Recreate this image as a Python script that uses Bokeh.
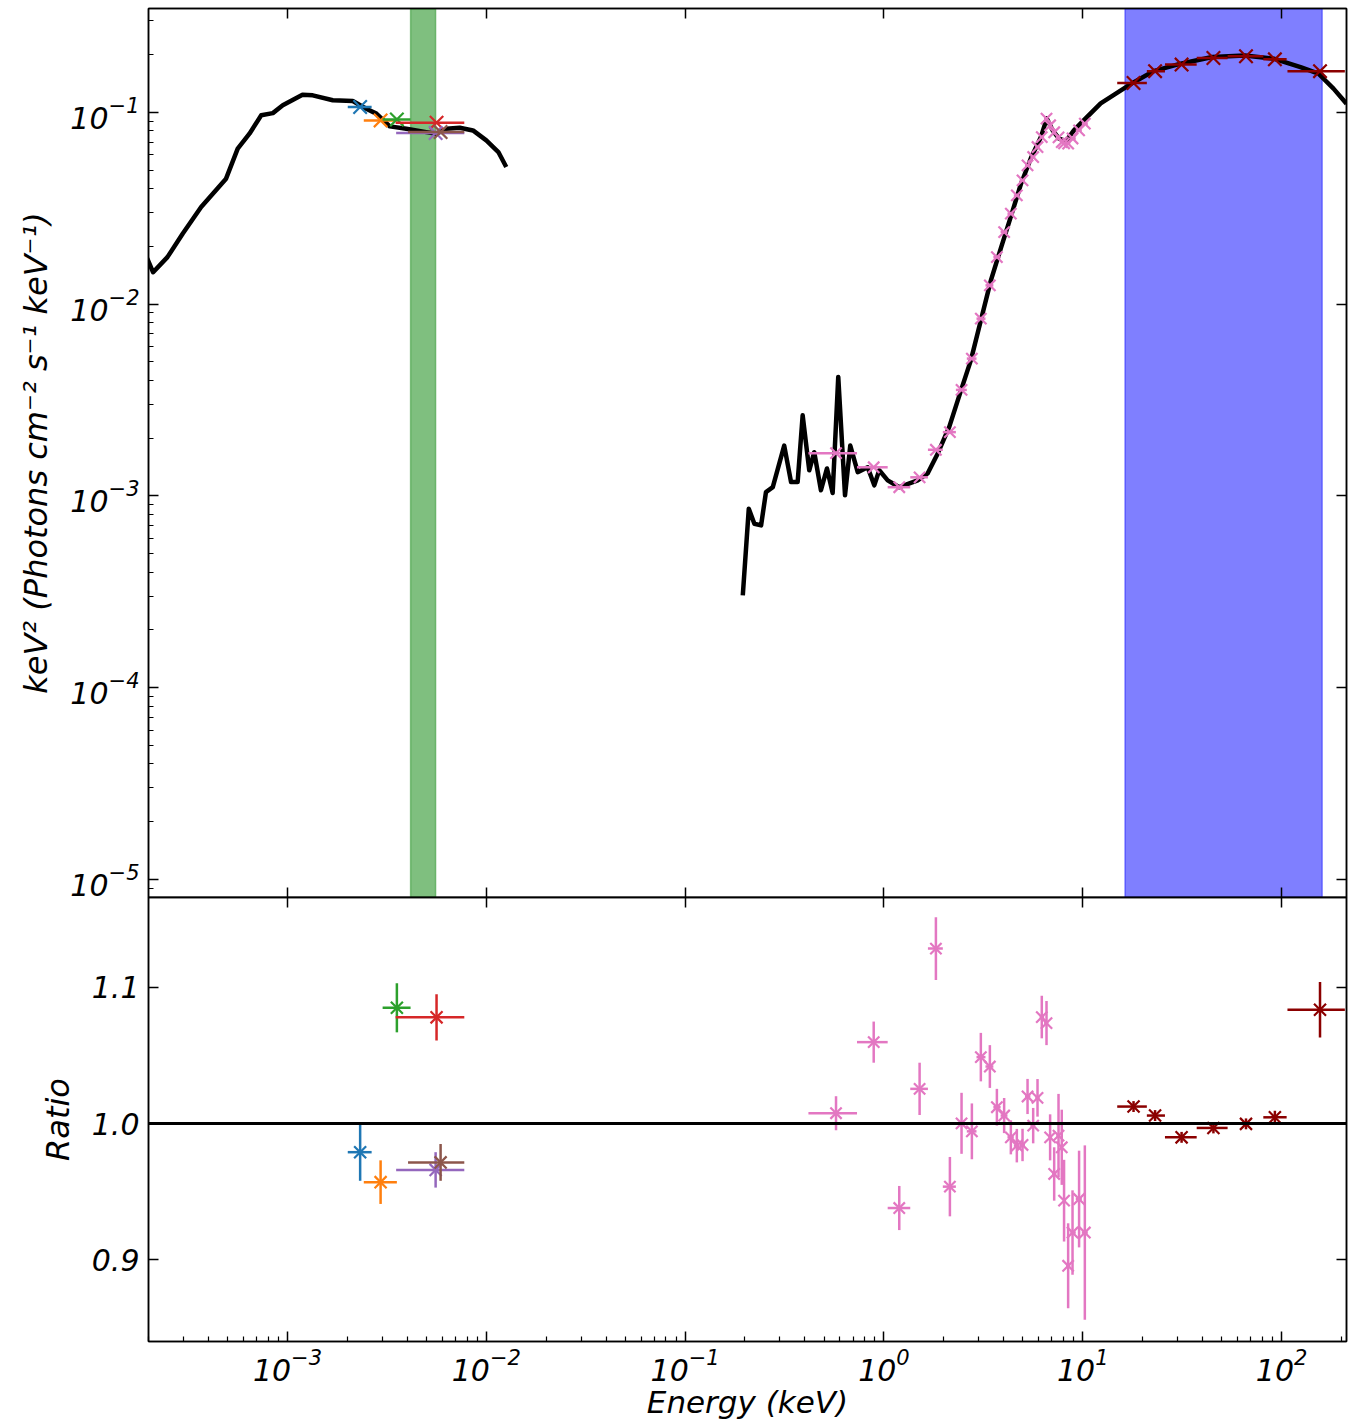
from bokeh.plotting import figure
from bokeh.models import (Range1d, LogAxis, LinearAxis, FixedTicker, BoxAnnotation,
                          Span, CustomJSTickFormatter, PrintfTickFormatter)
from bokeh.layouts import column
from bokeh.embed import file_html
from bokeh.resources import INLINE

# ---------------- data ----------------
# model curve, UV/optical part (keV, keV^2 photons cm^-2 s^-1 keV^-1)
opt_model_E = [1.97e-4, 2.11e-4, 2.49e-4, 2.97e-4, 3.68e-4, 4.91e-4, 5.62e-4, 6.44e-4,
               7.38e-4, 8.44e-4, 9.47e-4, 1.19e-3, 1.34e-3, 1.69e-3, 2.13e-3, 2.49e-3,
               2.80e-3, 3.27e-3, 3.96e-3, 4.99e-3, 5.61e-3, 6.30e-3, 7.35e-3, 8.57e-3,
               1.00e-2, 1.15e-2, 1.26e-2]
opt_model_F = [0.0173, 0.01466, 0.01758, 0.0233, 0.0321, 0.0451, 0.0647, 0.0774,
               0.0965, 0.0991, 0.1088, 0.1236, 0.1227, 0.1156, 0.1146, 0.1045,
               0.0985, 0.0845, 0.0822, 0.0789, 0.0774, 0.0822, 0.0832, 0.0805,
               0.0714, 0.0621, 0.0519]

# model curve, X-ray part
xr_model_E = [0.195, 0.209, 0.223, 0.241, 0.255, 0.276, 0.315, 0.341, 0.368, 0.390,
              0.421, 0.446, 0.482, 0.517, 0.552, 0.589, 0.637, 0.677, 0.738, 0.828,
              0.894, 0.947, 1.044, 1.194, 1.477, 1.658, 1.862, 2.13, 2.44, 2.735,
              3.07, 3.45, 3.87, 4.35, 4.88, 5.48, 6.15, 6.59, 7.06, 7.57, 8.22,
              9.02, 10.1, 12.3, 17.8, 22.7, 31.1, 44.8, 65.2, 91.2, 124.5, 153.4,
              182.4, 212.0]
xr_model_F = [3.03e-4, 8.57e-4, 7.16e-4, 7.02e-4, 1.047e-3, 1.11e-3, 1.83e-3, 1.18e-3,
              1.18e-3, 2.63e-3, 1.36e-3, 1.69e-3, 1.07e-3, 1.39e-3, 1.035e-3, 4.17e-3,
              1.007e-3, 1.83e-3, 1.33e-3, 1.41e-3, 1.135e-3, 1.36e-3, 1.205e-3, 1.11e-3,
              1.205e-3, 1.31e-3, 1.66e-3, 2.29e-3, 3.55e-3, 5.09e-3, 8.22e-3, 0.0133,
              0.01954, 0.0287, 0.0422, 0.0576, 0.0741, 0.093, 0.0805, 0.0731, 0.0706,
              0.0805, 0.0908, 0.1114, 0.1423, 0.164, 0.1794, 0.1943, 0.198, 0.1905,
              0.172, 0.159, 0.133, 0.111]

# UVOT filters (six colours)
uv_colors = ["#1f77b4", "#ff7f0e", "#2ca02c", "#d62728", "#9467bd", "#8c564b"]
uv_E = [2.32e-3, 2.94e-3, 3.55e-3, 5.62e-3, 5.56e-3, 5.89e-3]
uv_Elo = [2.01e-3, 2.42e-3, 3.01e-3, 3.50e-3, 3.52e-3, 4.04e-3]
uv_Ehi = [2.65e-3, 3.55e-3, 4.16e-3, 7.75e-3, 7.75e-3, 7.75e-3]
uv_F = [0.1066, 0.0908, 0.0919, 0.0884, 0.0780, 0.0789]
uv_R = [0.979, 0.957, 1.085, 1.078, 0.966, 0.9715]
uv_Rerr = [0.021, 0.016, 0.018, 0.017, 0.013, 0.0135]

# XRT (pink)
xrt_E = [0.574, 0.888, 1.194, 1.511, 1.825, 2.146, 2.456, 2.768, 3.071, 3.409,
         3.698, 4.022, 4.347, 4.659, 4.977, 5.274, 5.63, 5.92, 6.22, 6.57,
         6.85, 7.18, 7.55, 7.84, 8.05, 8.44, 8.88, 9.58, 10.24]
xrt_edges = [0.417, 0.732, 1.044, 1.356, 1.664, 1.977, 2.30, 2.61, 2.92, 3.24,
             3.55, 3.86, 4.18, 4.50, 4.81, 5.12, 5.45, 5.77, 6.07, 6.39,
             6.71, 7.01, 7.36, 7.69, 7.95, 8.24, 8.65, 9.22, 9.89, 10.6]
xrt_F = [1.67e-3, 1.41e-3, 1.11e-3, 1.25e-3, 1.74e-3, 2.15e-3, 3.57e-3, 5.20e-3,
         8.40e-3, 0.01253, 0.01759, 0.02375, 0.02963, 0.03690, 0.04418, 0.05291,
         0.05848, 0.06594, 0.07432, 0.0927, 0.0856, 0.0787, 0.0741, 0.0700,
         0.0689, 0.0687, 0.0731, 0.0805, 0.0873]
xrt_R = [1.0076, 1.0598, 0.938, 1.0255, 1.1285, 0.9537, 1.0002, 0.9943, 1.0488,
         1.0419, 1.012, 1.0059, 0.9899, 0.9838, 0.9843, 1.0199, 0.9985, 1.0189,
         1.0782, 1.0738, 0.9899, 0.963, 0.9912, 0.9826, 0.9434, 0.8956, 0.920,
         0.9446, 0.920]
xrt_Rerr = [0.0125, 0.0151, 0.0162, 0.0192, 0.023, 0.0218, 0.0224, 0.0205, 0.0178,
            0.0157, 0.0135, 0.0129, 0.0125, 0.0123, 0.0119, 0.0129, 0.013, 0.0138,
            0.0156, 0.0162, 0.0169, 0.0196, 0.0306, 0.0276, 0.030, 0.0312, 0.031,
            0.0355, 0.064]

# BAT (dark red)
bat_E = [18.0, 23.1, 31.4, 45.4, 66.2, 92.5, 156.0]
bat_Elo = [14.9, 21.0, 25.9, 37.4, 53.5, 80.9, 107.0]
bat_Ehi = [21.0, 25.9, 37.4, 53.5, 80.9, 106.0, 208.0]
bat_F = [0.1423, 0.164, 0.1774, 0.192, 0.196, 0.189, 0.164]
bat_R = [1.0125, 1.0059, 0.9899, 0.9968, 0.9998, 1.0046, 1.0836]
bat_Rerr = [0.004, 0.004, 0.004, 0.004, 0.004, 0.0048, 0.0204]

# shaded bands (keV)
green_band = (4.16e-3, 5.56e-3)
blue_band = (16.3, 160.0)

# ---------------- helpers ----------------
FONT = "DejaVu Sans"


def style_axis(ax, labels=True, minor=True):
    ax.axis_line_color = "black"
    ax.axis_line_width = 1.5
    ax.major_tick_in = 10
    ax.major_tick_out = 0
    ax.major_tick_line_color = "black"
    ax.major_tick_line_width = 1.5
    if minor:
        ax.minor_tick_in = 5
        ax.minor_tick_out = 0
        ax.minor_tick_line_color = "black"
        ax.minor_tick_line_width = 1.2
    else:
        ax.minor_tick_line_color = None
    ax.major_label_text_font = FONT
    ax.major_label_text_font_style = "italic"
    ax.major_label_text_font_size = "30px"
    ax.major_label_text_color = "black"
    ax.major_label_standoff = 9
    if not labels:
        ax.formatter = CustomJSTickFormatter(code="return ''")
        ax.major_label_standoff = 0
        ax.major_label_text_font_size = "0px"


def label_style(ax, text):
    ax.axis_label = text
    ax.axis_label_text_font = FONT
    ax.axis_label_text_font_style = "italic"
    ax.axis_label_text_font_size = "32px"
    ax.axis_label_text_color = "black"
    ax.axis_label_standoff = 12


def decade_minor(lo_exp, hi_exp):
    out = []
    for e in range(lo_exp, hi_exp + 1):
        for m in range(2, 10):
            out.append(m * 10.0 ** e)
    return out


x_major = [1e-3, 1e-2, 1e-1, 1e0, 1e1, 1e2]
x_minor = decade_minor(-4, 2)
y_major = [1e-5, 1e-4, 1e-3, 1e-2, 1e-1]
y_minor = decade_minor(-6, -1)

x_range = Range1d(2.0e-4, 212.0)

LW_MODEL = 4.5
LW_ERR = 2.5
PINK = "#e377c2"
DR = "#8b0000"
GAP = 20  # reserved borders between the panels, overlapped away below

# ---------------- top panel ----------------
p1 = figure(x_axis_type="log", y_axis_type="log", x_range=x_range,
            y_range=Range1d(8.05e-6, 0.348),
            frame_width=1198, frame_height=889,
            min_border_left=148, min_border_right=11, min_border_top=8,
            min_border_bottom=GAP,
            output_backend="svg", toolbar_location=None,
            background_fill_color="white", border_fill_color="white")
p1.grid.visible = False
p1.outline_line_color = "black"
p1.outline_line_width = 1.5

p1.xaxis.ticker = FixedTicker(ticks=x_major, minor_ticks=x_minor)
style_axis(p1.xaxis[0], labels=False, minor=False)
p1.yaxis.ticker = FixedTicker(ticks=y_major, minor_ticks=y_minor)
style_axis(p1.yaxis[0], labels=True, minor=True)
label_style(p1.yaxis[0], "keV² (Photons cm⁻² s⁻¹ keV⁻¹)")

ax_r = LogAxis(ticker=FixedTicker(ticks=y_major))
style_axis(ax_r, labels=False, minor=False)
p1.add_layout(ax_r, "right")
ax_t = LogAxis(ticker=FixedTicker(ticks=x_major))
style_axis(ax_t, labels=False, minor=False)
p1.add_layout(ax_t, "above")

p1.add_layout(BoxAnnotation(left=green_band[0], right=green_band[1],
                            fill_color="#008000", fill_alpha=0.5,
                            line_color="#008000", line_alpha=0.4, line_width=1.5,
                            level="underlay"))
p1.add_layout(BoxAnnotation(left=blue_band[0], right=blue_band[1],
                            fill_color="#0000ff", fill_alpha=0.5,
                            line_color="#0000ff", line_alpha=0.4, line_width=1.5,
                            level="underlay"))

p1.line(opt_model_E, opt_model_F, line_color="black", line_width=LW_MODEL, line_join="round")
p1.line(xr_model_E, xr_model_F, line_color="black", line_width=LW_MODEL, line_join="round")

for i, c in enumerate(uv_colors):
    p1.segment([uv_Elo[i]], [uv_F[i]], [uv_Ehi[i]], [uv_F[i]], line_color=c, line_width=LW_ERR)
    p1.scatter([uv_E[i]], [uv_F[i]], marker="x", size=19, line_width=2.2, color=c)

p1.segment(xrt_edges[:-1], xrt_F, xrt_edges[1:], xrt_F, line_color=PINK, line_width=LW_ERR)
p1.scatter(xrt_E, xrt_F, marker="x", size=16, line_width=2.2, color=PINK)

p1.segment(bat_Elo, bat_F, bat_Ehi, bat_F, line_color=DR, line_width=LW_ERR)
p1.scatter(bat_E, bat_F, marker="x", size=19, line_width=2.2, color=DR)

# ---------------- bottom panel ----------------
p2 = figure(x_axis_type="log", x_range=x_range, y_range=Range1d(0.840, 1.166),
            frame_width=1198, frame_height=444,
            min_border_left=148, min_border_right=11, min_border_top=GAP,
            min_border_bottom=0,
            output_backend="svg", toolbar_location=None,
            background_fill_color="white", border_fill_color="white")
p2.margin = (-2 * GAP, 0, 0, 0)
p2.border_fill_alpha = 0.0
p2.grid.visible = False
p2.outline_line_color = "black"
p2.outline_line_width = 1.5

p2.xaxis.ticker = FixedTicker(ticks=x_major, minor_ticks=x_minor)
style_axis(p2.xaxis[0], labels=True, minor=True)
label_style(p2.xaxis[0], "Energy (keV)")
p2.xaxis[0].major_label_standoff = 6
p2.xaxis[0].axis_label_standoff = 0
p2.xaxis[0].axis_label_text_font_size = "31px"
p2.yaxis.ticker = FixedTicker(ticks=[0.9, 1.0, 1.1])
style_axis(p2.yaxis[0], labels=True, minor=False)
p2.yaxis[0].formatter = PrintfTickFormatter(format="%.1f")
label_style(p2.yaxis[0], "Ratio")

ax_r2 = LinearAxis(ticker=FixedTicker(ticks=[0.9, 1.0, 1.1]))
style_axis(ax_r2, labels=False, minor=False)
p2.add_layout(ax_r2, "right")
ax_t2 = LogAxis(ticker=FixedTicker(ticks=x_major))
style_axis(ax_t2, labels=False, minor=False)
p2.add_layout(ax_t2, "above")

p2.add_layout(Span(location=1.0, dimension="width", line_color="black", line_width=3))

for i, c in enumerate(uv_colors):
    p2.segment([uv_Elo[i]], [uv_R[i]], [uv_Ehi[i]], [uv_R[i]], line_color=c, line_width=LW_ERR)
    p2.segment([uv_E[i]], [uv_R[i] - uv_Rerr[i]], [uv_E[i]], [uv_R[i] + uv_Rerr[i]],
               line_color=c, line_width=LW_ERR)
    p2.scatter([uv_E[i]], [uv_R[i]], marker="x", size=17, line_width=2.2, color=c)

xrt_lo = [r - e for r, e in zip(xrt_R, xrt_Rerr)]
xrt_hi = [r + e for r, e in zip(xrt_R, xrt_Rerr)]
p2.segment(xrt_edges[:-1], xrt_R, xrt_edges[1:], xrt_R, line_color=PINK, line_width=LW_ERR)
p2.segment(xrt_E, xrt_lo, xrt_E, xrt_hi, line_color=PINK, line_width=LW_ERR)
p2.scatter(xrt_E, xrt_R, marker="x", size=16, line_width=2.2, color=PINK)

bat_lo = [r - e for r, e in zip(bat_R, bat_Rerr)]
bat_hi = [r + e for r, e in zip(bat_R, bat_Rerr)]
p2.segment(bat_Elo, bat_R, bat_Ehi, bat_R, line_color=DR, line_width=LW_ERR)
p2.segment(bat_E, bat_lo, bat_E, bat_hi, line_color=DR, line_width=LW_ERR)
p2.scatter(bat_E, bat_R, marker="x", size=17, line_width=2.2, color=DR)

layout = column(p1, p2, spacing=0)
open("out.html", "w").write(file_html(layout, INLINE))
